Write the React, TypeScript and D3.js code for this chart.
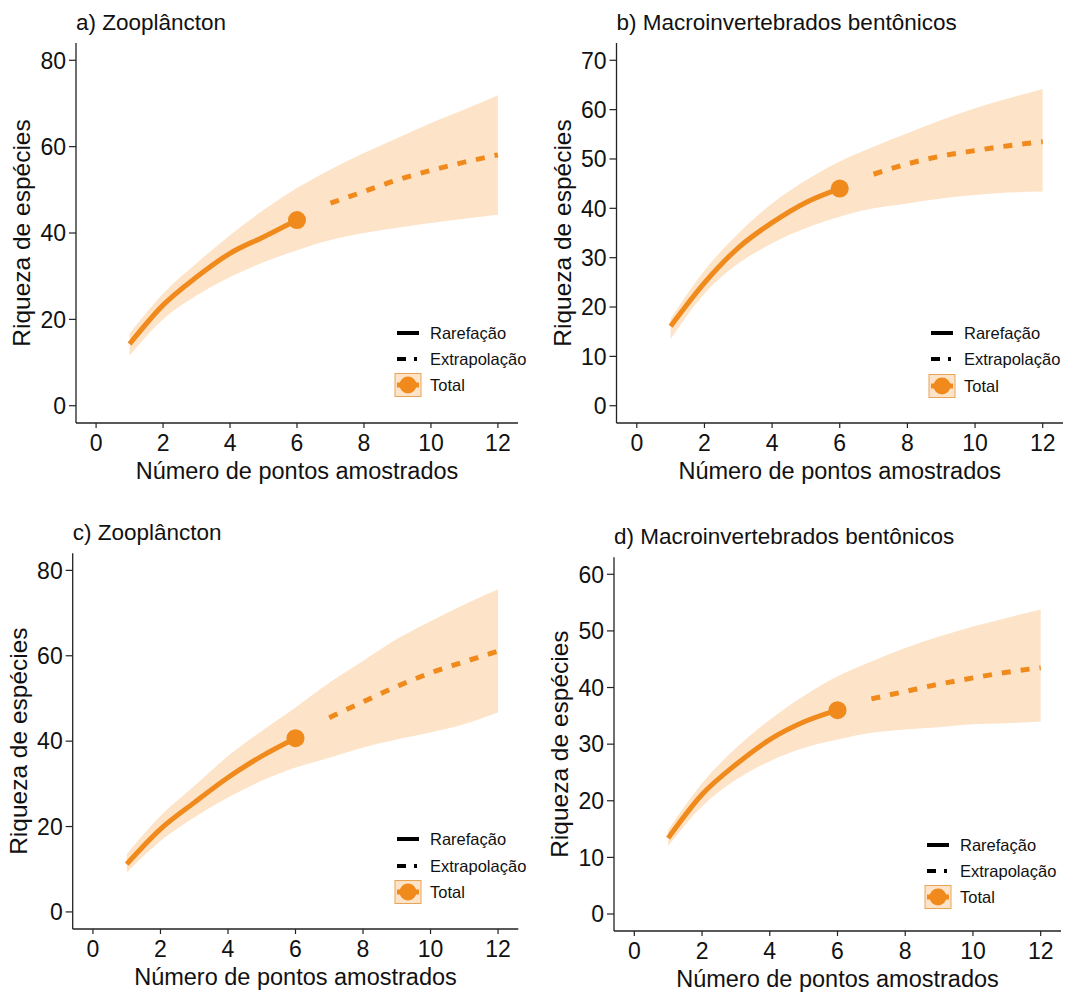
import React from "react";
import * as d3 from "d3";

// sample sizes (number of sampled points)
const RAR_X = [1, 2, 3, 4, 5, 6];
const EXT_X = [7, 8, 9, 10, 11, 12];
const BAND_X = [1, 2, 3, 4, 5, 6, 7, 8, 9, 10, 11, 12];
const X_TICKS = [0, 2, 4, 6, 8, 10, 12];

// a) Zooplâncton
const A_RAR = [14.3, 23.3, 29.8, 35.3, 39.1, 43.0];
const A_EXT = [46.9, 49.6, 52.3, 54.5, 56.4, 58.1];
const A_UP = [16.7, 26.0, 33.0, 39.5, 45.3, 50.4, 54.7, 58.5, 62.0, 65.5, 68.6, 71.9];
const A_LO = [11.6, 20.0, 25.5, 29.8, 33.2, 36.0, 38.4, 40.0, 41.2, 42.3, 43.3, 44.2];
const A_TICKS = [0, 20, 40, 60, 80];

// b) Macroinvertebrados bentônicos
const B_RAR = [16.1, 24.9, 32.0, 37.1, 41.2, 44.0];
const B_EXT = [46.9, 49.0, 50.6, 51.7, 52.7, 53.5];
const B_UP = [17.6, 27.4, 34.9, 41.0, 45.7, 49.5, 52.5, 55.2, 57.9, 60.3, 62.3, 64.2];
const B_LO = [13.5, 22.7, 28.8, 32.9, 36.0, 38.3, 40.0, 41.0, 42.0, 42.7, 43.2, 43.4];
const B_TICKS = [0, 10, 20, 30, 40, 50, 60, 70];

// c) Zooplâncton
const C_RAR = [11.2, 19.4, 25.6, 31.5, 36.5, 40.7];
const C_EXT = [45.5, 49.2, 52.8, 56.0, 58.6, 61.1];
const C_UP = [13.5, 22.5, 29.5, 36.5, 42.4, 47.9, 53.7, 58.8, 63.9, 68.1, 72.0, 75.6];
const C_LO = [9.2, 16.6, 22.1, 26.8, 30.7, 33.8, 36.1, 38.5, 40.4, 42.0, 44.0, 46.7];
const C_TICKS = [0, 20, 40, 60, 80];

// d) Macroinvertebrados bentônicos
const D_RAR = [13.4, 21.1, 26.4, 30.8, 33.9, 36.0];
const D_EXT = [38.0, 39.3, 40.6, 41.7, 42.7, 43.5];
const D_UP = [14.9, 23.1, 29.3, 34.3, 38.5, 42.0, 44.6, 47.0, 49.0, 50.8, 52.3, 53.8];
const D_LO = [12.0, 19.0, 23.7, 27.0, 29.3, 30.8, 32.0, 32.6, 33.0, 33.5, 33.7, 34.0];
const D_TICKS = [0, 10, 20, 30, 40, 50, 60];

const LEGEND_LABELS = ["Rarefação", "Extrapolação", "Total"];
const X_TITLE = "Número de pontos amostrados";
const Y_TITLE = "Riqueza de espécies";

const STYLE = {
  font: "'Liberation Sans', Arial, sans-serif",
  line: "#f08a1c",
  band: "#fde4c8",
  keyBorder: "#e8a456",
  axis: "#222",
};

type PanelProps = {
  title: string;
  box: { left: number; top: number; right: number; bottom: number };
  yMax: number;
  yTicks: number[];
  rar: number[];
  ext: number[];
  up: number[];
  lo: number[];
  legend: { x: number; rows: number[] };
};

const Panel = ({ title, box, yMax, yTicks, rar, ext, up, lo, legend }: PanelProps) => {
  const x = d3.scaleLinear().domain([-0.6, 12.6]).range([box.left, box.right]);
  const y = d3
    .scaleLinear()
    .domain([-yMax * 0.05, yMax * 1.05])
    .range([box.bottom, box.top]);

  const area = d3
    .area<number>()
    .curve(d3.curveMonotoneX)
    .x((_, i) => x(BAND_X[i]))
    .y0((_, i) => y(lo[i]))
    .y1((d) => y(d));
  const line = d3
    .line<number>()
    .curve(d3.curveMonotoneX)
    .x((_, i) => x(RAR_X[i]))
    .y((d) => y(d));
  const lineExt = d3
    .line<number>()
    .curve(d3.curveMonotoneX)
    .x((_, i) => x(EXT_X[i]))
    .y((d) => y(d));

  const keyL = legend.x;
  const textX = keyL + 35;
  const [r1, r2, r3] = legend.rows.map((r) => box.bottom + r);

  return (
    <g>
      <text x={box.left} y={box.top - 13} fontSize={22.5} fill="#111">
        {title}
      </text>
      <path d={area(up) ?? ""} fill={STYLE.band} />
      <path d={line(rar) ?? ""} fill="none" stroke={STYLE.line} strokeWidth={5} />
      <path
        d={lineExt(ext) ?? ""}
        fill="none"
        stroke={STYLE.line}
        strokeWidth={5}
        strokeDasharray="9 10"
      />
      <circle cx={x(6)} cy={y(rar[5])} r={9} fill={STYLE.line} />

      {/* axes */}
      <line x1={box.left} x2={box.left} y1={box.top} y2={box.bottom} stroke={STYLE.axis} strokeWidth={1.3} />
      <line x1={box.left} x2={box.right} y1={box.bottom} y2={box.bottom} stroke={STYLE.axis} strokeWidth={1.3} />
      {yTicks.map((t) => (
        <g key={"y" + t}>
          <line x1={box.left - 7} x2={box.left} y1={y(t)} y2={y(t)} stroke={STYLE.axis} strokeWidth={1.2} />
          <text x={box.left - 10} y={y(t)} dy="0.36em" textAnchor="end" fontSize={23} fill="#111">
            {t}
          </text>
        </g>
      ))}
      {X_TICKS.map((t) => (
        <g key={"x" + t}>
          <line x1={x(t)} x2={x(t)} y1={box.bottom} y2={box.bottom + 5} stroke={STYLE.axis} strokeWidth={1.2} />
          <text x={x(t)} y={box.bottom + 28} textAnchor="middle" fontSize={23} fill="#111">
            {t}
          </text>
        </g>
      ))}
      <text
        x={(box.left + box.right) / 2}
        y={box.bottom + 56}
        textAnchor="middle"
        fontSize={23.5}
        fill="#111"
      >
        {X_TITLE}
      </text>
      <text
        transform={`translate(${box.left - 46},${(box.top + box.bottom) / 2}) rotate(-90)`}
        textAnchor="middle"
        fontSize={24.5}
        fill="#111"
      >
        {Y_TITLE}
      </text>

      {/* legend */}
      <line x1={keyL + 2} x2={keyL + 24} y1={r1} y2={r1} stroke="#000" strokeWidth={4} />
      <line x1={keyL + 2} x2={keyL + 24} y1={r2} y2={r2} stroke="#000" strokeWidth={4} strokeDasharray="9 8 3 10" />
      <rect x={keyL} y={r3 - 11.5} width={26} height={23} fill={STYLE.band} stroke={STYLE.keyBorder} strokeWidth={1} />
      <line x1={keyL + 2} x2={keyL + 24} y1={r3} y2={r3} stroke={STYLE.line} strokeWidth={5} />
      <circle cx={keyL + 13} cy={r3} r={8.5} fill={STYLE.line} />
      {[r1, r2, r3].map((r, i) => (
        <text key={LEGEND_LABELS[i]} x={textX} y={r} dy="0.36em" fontSize={16.5} fill="#111">
          {LEGEND_LABELS[i]}
        </text>
      ))}
    </g>
  );
};

export default function App() {
  return (
    <svg
      width={1080}
      height={993}
      style={{ position: "absolute", left: 0, top: 0, background: "#fff" }}
      fontFamily={STYLE.font}
    >
      <Panel
        title="a) Zooplâncton"
        box={{ left: 76, top: 43, right: 518, bottom: 423 }}
        yMax={80}
        yTicks={A_TICKS}
        rar={A_RAR}
        ext={A_EXT}
        up={A_UP}
        lo={A_LO}
        legend={{ x: 395, rows: [-90, -64, -38] }}
      />
      <Panel
        title="b) Macroinvertebrados bentônicos"
        box={{ left: 616.5, top: 43, right: 1063, bottom: 423 }}
        yMax={70}
        yTicks={B_TICKS}
        rar={B_RAR}
        ext={B_EXT}
        up={B_UP}
        lo={B_LO}
        legend={{ x: 929, rows: [-90, -64, -37] }}
      />
      <Panel
        title="c) Zooplâncton"
        box={{ left: 72.7, top: 553.3, right: 518.3, bottom: 929 }}
        yMax={80}
        yTicks={C_TICKS}
        rar={C_RAR}
        ext={C_EXT}
        up={C_UP}
        lo={C_LO}
        legend={{ x: 395, rows: [-90, -63, -37] }}
      />
      <Panel
        title="d) Macroinvertebrados bentônicos"
        box={{ left: 614, top: 557.3, right: 1061, bottom: 931 }}
        yMax={60}
        yTicks={D_TICKS}
        rar={D_RAR}
        ext={D_EXT}
        up={D_UP}
        lo={D_LO}
        legend={{ x: 925, rows: [-86, -60, -34] }}
      />
    </svg>
  );
}
